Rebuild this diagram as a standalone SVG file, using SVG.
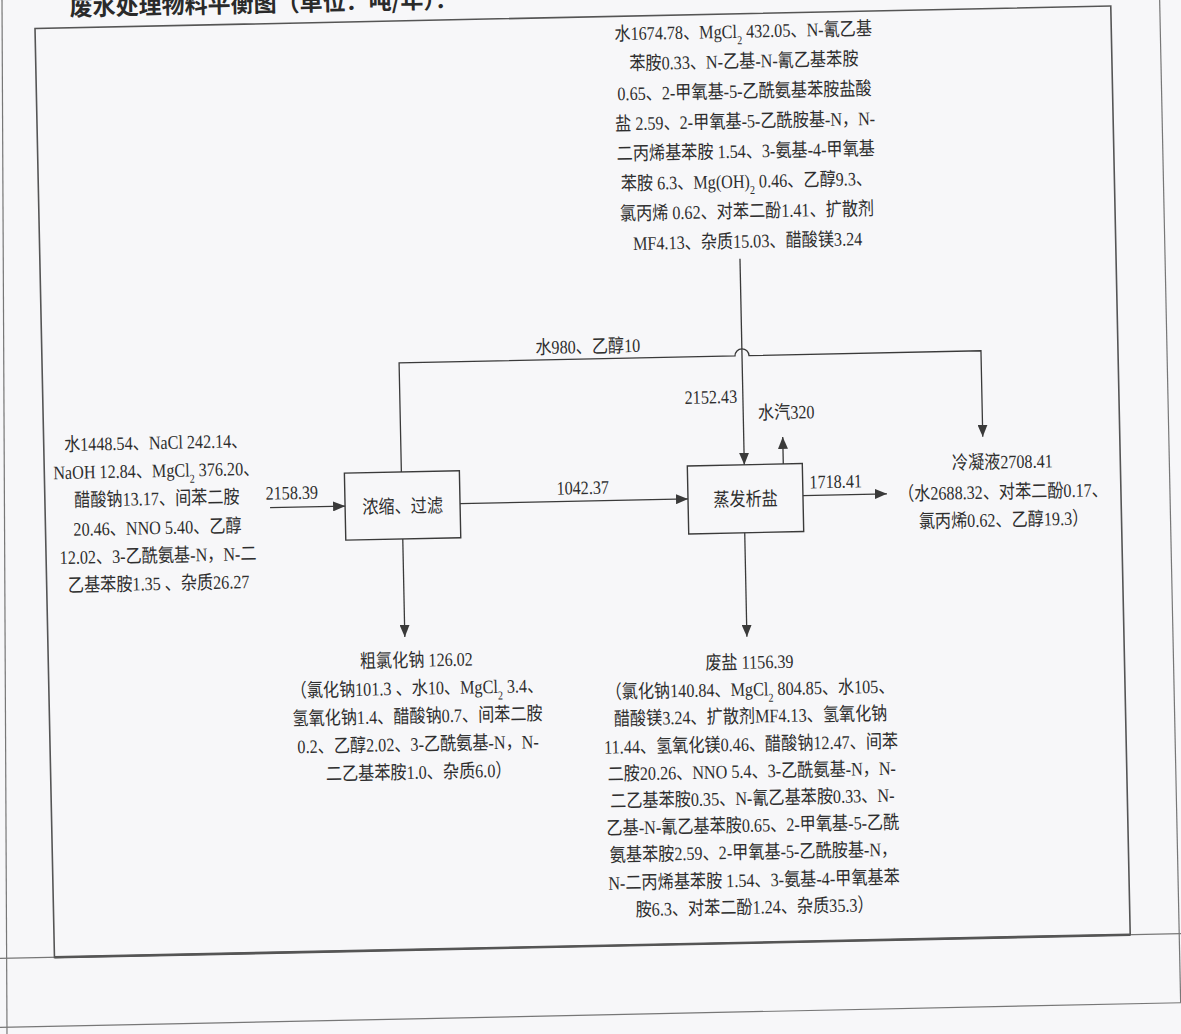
<svg xmlns="http://www.w3.org/2000/svg" width="1181" height="1034" viewBox="0 0 1181 1034">
<defs>
<style>
.ln{stroke:#3a3a3a;stroke-width:1.3;fill:none}
.box{fill:none;stroke:#3a3a3a;stroke-width:1.4}
.fr{fill:none;stroke:#555;stroke-width:1.6}
.scan{fill:none;stroke:#777;stroke-width:1.2}
.t{font-family:"Liberation Serif","Noto Sans CJK SC",serif;font-size:19px;fill:#2e2e2e;text-anchor:middle}
.sub{font-size:12px;baseline-shift:sub}
.title{font-family:"Noto Sans CJK SC","Liberation Sans",sans-serif;font-size:23px;font-weight:bold;fill:#2a2a2a}
</style>
<marker id="ah" markerWidth="12" markerHeight="10" refX="12" refY="5" orient="auto" markerUnits="userSpaceOnUse">
<path d="M0,0 L12,5 L0,10 z" fill="#3a3a3a"/>
</marker>
</defs>
<rect x="0" y="0" width="1181" height="1034" fill="#f7f7f9"/>
<line class="scan" x1="2" y1="0" x2="7" y2="1034"/>
<g transform="rotate(-1.2 590 500)">
<text class="title" x="80" y="5">废水处理物料平衡图（单位：吨/年）：</text>
<line class="scan" x1="1170" y1="-40" x2="1170" y2="1015"/>
<line class="scan" x1="-30" y1="1015" x2="1210" y2="1015"/>
<line class="scan" x1="-30" y1="946" x2="1210" y2="946"/>
<rect class="fr" x="45" y="17" width="1076" height="929"/>
<line x1="45" y1="946" x2="1121" y2="946" stroke="#555" stroke-width="2.6"/>

<g id="connectors">
<path class="ln" d="M270,501 H345" marker-end="url(#ah)"/>
<path class="ln" d="M460,501 H688" marker-end="url(#ah)"/>
<path class="ln" d="M803,500 H887" marker-end="url(#ah)"/>
<path class="ln" d="M784,468 V441" marker-end="url(#ah)"/>
<path class="ln" d="M745,262 V468" marker-end="url(#ah)"/>
<path class="ln" d="M402,468 V359 H738 A7,7 0 0 1 752,359 H984 V445" marker-end="url(#ah)"/>
<path class="ln" d="M402,535 V633" marker-end="url(#ah)"/>
<path class="ln" d="M744,536 V640" marker-end="url(#ah)"/>
<g transform="translate(292 0) scale(0.85 1)"><text class="t" x="0" y="493">2158.39</text></g>
<g transform="translate(583 0) scale(0.85 1)"><text class="t" x="0" y="494">1042.37</text></g>
<g transform="translate(836 0) scale(0.85 1)"><text class="t" x="0" y="493">1718.41</text></g>
<g transform="translate(591 0) scale(0.85 1)"><text class="t" x="0" y="353">水980、乙醇10</text></g>
<g transform="translate(713 0) scale(0.85 1)"><text class="t" x="0" y="406">2152.43</text></g>
<g transform="translate(788 0) scale(0.85 1)"><text class="t" x="0" y="423">水汽320</text></g>
</g>

<g id="node-concentrate">
<rect class="box" x="345" y="468" width="115" height="67"/>
<g transform="translate(402.5 0) scale(0.85 1)"><text class="t" x="0" y="509">浓缩、过滤</text></g>
</g>

<g id="node-evaporate">
<rect class="box" x="688" y="468" width="115" height="68"/>
<g transform="translate(745.5 0) scale(0.85 1)"><text class="t" x="0" y="509">蒸发析盐</text></g>
</g>

<g id="node-feed" transform="translate(753 0) scale(0.85 1)">
<text class="t" x="0" y="41">水1674.78、MgCl<tspan class="sub">2</tspan> 432.05、N-氰乙基</text>
<text class="t" x="0" y="71">苯胺0.33、N-乙基-N-氰乙基苯胺</text>
<text class="t" x="0" y="101">0.65、2-甲氧基-5-乙酰氨基苯胺盐酸</text>
<text class="t" x="0" y="131">盐 2.59、2-甲氧基-5-乙酰胺基-N，N-</text>
<text class="t" x="0" y="161">二丙烯基苯胺 1.54、3-氨基-4-甲氧基</text>
<text class="t" x="0" y="191">苯胺 6.3、Mg(OH)<tspan class="sub">2</tspan> 0.46、乙醇9.3、</text>
<text class="t" x="0" y="221">氯丙烯 0.62、对苯二酚1.41、扩散剂</text>
<text class="t" x="0" y="251">MF4.13、杂质15.03、醋酸镁3.24</text>
</g>

<g id="node-input" transform="translate(157 0) scale(0.85 1)">
<text class="t" x="0" y="440">水1448.54、NaCl 242.14、</text>
<text class="t" x="0" y="468">NaOH 12.84、MgCl<tspan class="sub">2</tspan> 376.20、</text>
<text class="t" x="0" y="496">醋酸钠13.17、间苯二胺</text>
<text class="t" x="0" y="525">20.46、NNO 5.40、乙醇</text>
<text class="t" x="0" y="553">12.02、3-乙酰氨基-N，N-二</text>
<text class="t" x="0" y="581">乙基苯胺1.35 、杂质26.27</text>
</g>

<g id="node-crude-nacl" transform="translate(413 0) scale(0.85 1)">
<text class="t" x="0" y="663">粗氯化钠 126.02</text>
<text class="t" x="0" y="691">（氯化钠101.3 、水10、MgCl<tspan class="sub">2</tspan> 3.4、</text>
<text class="t" x="0" y="719">氢氧化钠1.4、醋酸钠0.7、间苯二胺</text>
<text class="t" x="0" y="747">0.2、乙醇2.02、3-乙酰氨基-N，N-</text>
<text class="t" x="0" y="775">二乙基苯胺1.0、杂质6.0）</text>
</g>

<g id="node-waste-salt" transform="translate(746 0) scale(0.85 1)">
<text class="t" x="0" y="672">废盐 1156.39</text>
<text class="t" x="0" y="699">（氯化钠140.84、MgCl<tspan class="sub">2</tspan> 804.85、水105、</text>
<text class="t" x="0" y="726">醋酸镁3.24、扩散剂MF4.13、氢氧化钠</text>
<text class="t" x="0" y="754">11.44、氢氧化镁0.46、醋酸钠12.47、间苯</text>
<text class="t" x="0" y="781">二胺20.26、NNO 5.4、3-乙酰氨基-N，N-</text>
<text class="t" x="0" y="808">二乙基苯胺0.35、N-氰乙基苯胺0.33、N-</text>
<text class="t" x="0" y="835">乙基-N-氰乙基苯胺0.65、2-甲氧基-5-乙酰</text>
<text class="t" x="0" y="862">氨基苯胺2.59、2-甲氧基-5-乙酰胺基-N，</text>
<text class="t" x="0" y="890">N-二丙烯基苯胺 1.54、3-氨基-4-甲氧基苯</text>
<text class="t" x="0" y="917">胺6.3、对苯二酚1.24、杂质35.3）</text>
</g>

<g id="node-condensate" transform="translate(1003 0) scale(0.85 1)">
<text class="t" x="0" y="477">冷凝液2708.41</text>
<text class="t" x="0" y="507">（水2688.32、对苯二酚0.17、</text>
<text class="t" x="0" y="535">氯丙烯0.62、乙醇19.3）</text>
</g>
</g>
</svg>
